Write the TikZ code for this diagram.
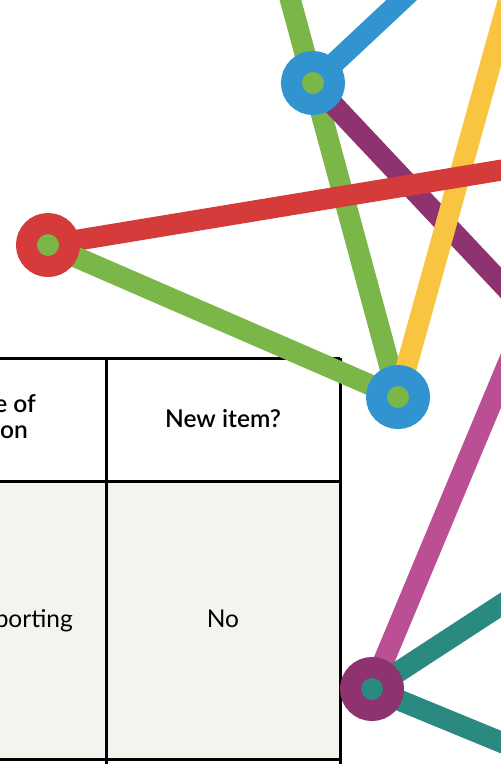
\documentclass[tikz,border=0pt]{standalone}
\usepackage{fontspec}
\setmainfont{Lato}
\newfontfamily\headfont{Lato Semibold}
\usetikzlibrary{backgrounds}

\definecolor{linkblue}{HTML}{3193D0}
\definecolor{linkgreen}{HTML}{7AB648}
\definecolor{linkred}{HTML}{D63B3B}
\definecolor{linkyellow}{HTML}{F9C540}
\definecolor{linkplum}{HTML}{8E3370}
\definecolor{linkpink}{HTML}{BA5093}
\definecolor{linkteal}{HTML}{2A8A80}
\definecolor{cellgrey}{HTML}{F4F4EF}

\begin{document}
\begin{tikzpicture}[x=1pt,y=1pt,
  hub/.style 2 args={circle,draw=#1,fill=#2,line width=21pt,minimum size=43pt,inner sep=0pt},
  link/.style={line width=21pt,#1},
  rule/.style={line width=3pt,black},
  cell/.style={inner sep=0pt,font=\fontsize{24.5}{29}\selectfont},
  head/.style={inner sep=0pt,font=\headfont\fontsize{24.5}{29}\selectfont}]
\useasboundingbox (0,0) rectangle (501,-764);
% hubs
\node [hub={linkblue}{linkgreen}] (topHub) at (313,-83) {};
\node [hub={linkred}{linkgreen}] (redHub) at (48,-245) {};
\node [hub={linkblue}{linkgreen}] (midHub) at (398,-397) {};
\node [hub={linkplum}{linkteal}] (lowHub) at (372,-689) {};
% loose ends beyond the page
\coordinate (greenTop) at (285,20);
\coordinate (blueTop) at (423,20);
\coordinate (yellowTop) at (514,20);
\coordinate (redEnd) at (520,-167);
\coordinate (plumEnd) at (520,-303);
\coordinate (pinkEnd) at (530,-311);
\coordinate (tealUp) at (530,-586);
\coordinate (tealDown) at (530,-754);
% table text
\node [head,anchor=base east] (headA) at (36,-412) {e of};
\node [head,anchor=base east] (headB) at (28,-438) {on};
\node [head,anchor=base] (headNew) at (223,-427) {New item?};
\node [cell,anchor=base east] (bodyA) at (73,-627) {porting};
\node [cell,anchor=base] (bodyNo) at (223,-627) {No};
\begin{scope}[on background layer]
\fill [cellgrey] (-10,-481) rectangle (340,-759);
\draw [rule] (-10,-358) -- (340,-358);
\draw [rule] (-10,-481) -- (340,-481);
\draw [rule] (-10,-759) -- (340,-759);
\draw [rule] (106,-358) -- (106,-774);
\draw [rule] (340,-358) -- (340,-774);
\draw [link=linkgreen] (greenTop) -- (topHub.center) -- (midHub.center);
\draw [link=linkblue] (topHub.center) -- (blueTop);
\draw [link=linkplum] (topHub.center) -- (plumEnd);
\draw [link=linkyellow] (midHub.center) -- (yellowTop);
\draw [link=linkred] (redHub.center) -- (redEnd);
\draw [link=linkgreen] (redHub.center) -- (midHub.center);
\draw [link=linkpink] (lowHub.center) -- (pinkEnd);
\draw [link=linkteal] (lowHub.center) -- (tealUp);
\draw [link=linkteal] (lowHub.center) -- (tealDown);
\end{scope}
\end{tikzpicture}
\end{document}
